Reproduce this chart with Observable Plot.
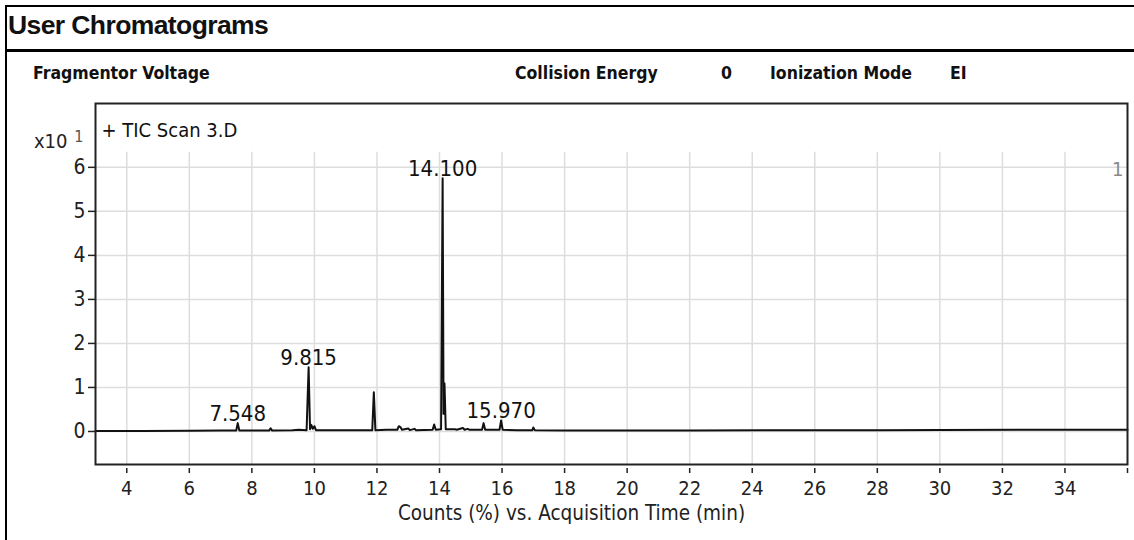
<!DOCTYPE html>
<html>
<head>
<meta charset="utf-8">
<script src="https://cdn.jsdelivr.net/npm/d3@7"></script>
<script src="https://cdn.jsdelivr.net/npm/@observablehq/plot@0.6"></script>
<style>
  html, body { margin: 0; padding: 0; background: #fff; }
  #page { position: relative; width: 1134px; height: 540px; overflow: hidden; background: #fff; }
  .hdr { position: absolute; white-space: nowrap; color: #111; }
  .param { font: bold 17.5px "DejaVu Sans Condensed", "DejaVu Sans", sans-serif; top: 63px; }
  #chart { position: absolute; left: 0; top: 90px; }
  #border { position: absolute; left: 5px; top: 5px; right: -5px; bottom: -5px; border-left: 2px solid #000; border-top: 2px solid #000; pointer-events: none; z-index: 5; }
</style>
</head>
<body>
<div id="page">
  <div class="hdr" style="left:8px;top:10px;font:bold 26.5px 'Liberation Sans', Arial, sans-serif;letter-spacing:-0.6px;">User Chromatograms</div>
  <div style="position:absolute;left:5px;right:0;top:49px;height:3px;background:#000;"></div>
  <div class="hdr param" style="left:33px;">Fragmentor Voltage</div>
  <div class="hdr param" style="left:515px;">Collision Energy</div>
  <div class="hdr param" style="left:721px;">0</div>
  <div class="hdr param" style="left:770px;">Ionization Mode</div>
  <div class="hdr param" style="left:950px;">EI</div>
  <div id="chart"></div>
  <div id="border"></div>
</div>
<script>
// Chromatogram trace: acquisition time (min) and counts (x10^1 %)
const times = [3.0, 4.5, 6.0, 7.0, 7.50, 7.548, 7.60, 8.55, 8.60, 8.65, 9.3, 9.5, 9.75, 9.815, 9.86, 9.90, 9.95, 10.0, 10.05,
  10.5, 11.0, 11.85, 11.9, 11.95, 12.3, 12.65, 12.7, 12.75, 12.8, 13.0, 13.05, 13.2, 13.25, 13.78, 13.83, 13.88,
  14.05, 14.10, 14.13, 14.16, 14.20, 14.5, 14.55, 14.75, 14.8, 14.9, 14.95, 15.36, 15.41, 15.46, 15.92, 15.97, 16.02,
  16.5, 16.97, 17.0, 17.05, 18, 22, 26, 28, 30, 34, 36];
const counts = [0.01, 0.01, 0.015, 0.02, 0.02, 0.19, 0.02, 0.02, 0.07, 0.02, 0.03, 0.04, 0.03, 1.46, 0.05, 0.15, 0.06, 0.12, 0.03,
  0.03, 0.03, 0.03, 0.89, 0.03, 0.04, 0.04, 0.12, 0.10, 0.04, 0.07, 0.03, 0.06, 0.03, 0.04, 0.16, 0.04,
  0.05, 5.75, 0.4, 1.09, 0.05, 0.05, 0.04, 0.08, 0.04, 0.06, 0.04, 0.04, 0.19, 0.04, 0.04, 0.25, 0.04,
  0.03, 0.03, 0.09, 0.03, 0.025, 0.02, 0.03, 0.03, 0.035, 0.04, 0.04];

// Labelled peaks
const peakLabels = ["7.548", "9.815", "14.100", "15.970"];
const peakTimes = [7.548, 9.815, 14.100, 15.970];
const peakHeights = [0.19, 1.46, 5.75, 0.25];

// Axis ticks
const xTicks = [4, 6, 8, 10, 12, 14, 16, 18, 20, 22, 24, 26, 28, 30, 32, 34, 36];
const xTickLabels = ["4", "6", "8", "10", "12", "14", "16", "18", "20", "22", "24", "26", "28", "30", "32", "34", ""];
const yTicks = [0, 1, 2, 3, 4, 5, 6];

const trace = times.map((t, i) => ({t, v: counts[i]}));
const peaks = peakLabels.map((l, i) => ({label: l, t: peakTimes[i], v: peakHeights[i]}));
const gridX = xTicks.slice(0, -1);

const font = '"DejaVu Sans Condensed", "DejaVu Sans", sans-serif';

const chart = Plot.plot({
  width: 1134,
  height: 450,
  marginLeft: 95,
  marginRight: 7,
  marginTop: 13,
  marginBottom: 76,
  style: {fontFamily: font, fontSize: "20px", color: "#222", background: "transparent"},
  x: {domain: [3, 36]},
  y: {domain: [-0.75, 7.45]},
  marks: [
    Plot.ruleY(yTicks, {y: d => d, stroke: "#ddd", strokeWidth: 1.5}),
    Plot.ruleX(gridX, {x: d => d, y1: -0.75, y2: 6.34, stroke: "#ddd", strokeWidth: 1.5}),
    Plot.axisX({ticks: xTicks, tickFormat: d => xTickLabels[xTicks.indexOf(d)], tickSize: 5, dy: 4, tickPadding: 7, stroke: "#222", strokeWidth: 1.5, label: null, fontSize: 20}),
    Plot.axisY({ticks: yTicks, tickSize: 7, tickPadding: 3, stroke: "#222", strokeWidth: 1.5, label: null, fontSize: 21}),
    Plot.line(trace, {x: "t", y: "v", stroke: "#111", strokeWidth: 2}),
    Plot.text(peaks, {x: "t", y: "v", text: "label", dy: -2, lineAnchor: "bottom", fontSize: 22, fill: "#111"}),
    Plot.frame({stroke: "#222", strokeWidth: 2}),
    Plot.text(["+ TIC Scan 3.D"], {frameAnchor: "top-left", dx: 6, dy: 27, textAnchor: "start", lineAnchor: "middle", fontSize: 20, fill: "#111"}),
    Plot.text(["x10"], {frameAnchor: "top-left", dx: -28, dy: 38, textAnchor: "end", lineAnchor: "middle", fontSize: 20, fill: "#222"}),
    Plot.text(["1"], {frameAnchor: "top-left", dx: -12, dy: 33, textAnchor: "end", lineAnchor: "middle", fontSize: 16, fill: "#555"}),
    Plot.text(["1"], {frameAnchor: "top-right", dx: -4, dy: 66, textAnchor: "end", lineAnchor: "middle", fontSize: 20, fill: "#888"}),
    Plot.text(["Counts (%) vs. Acquisition Time (min)"], {frameAnchor: "bottom", dx: -40, dy: 49, lineAnchor: "middle", fontSize: 20.5, fill: "#222"})
  ]
});
document.getElementById("chart").appendChild(chart);
</script>
</body>
</html>
